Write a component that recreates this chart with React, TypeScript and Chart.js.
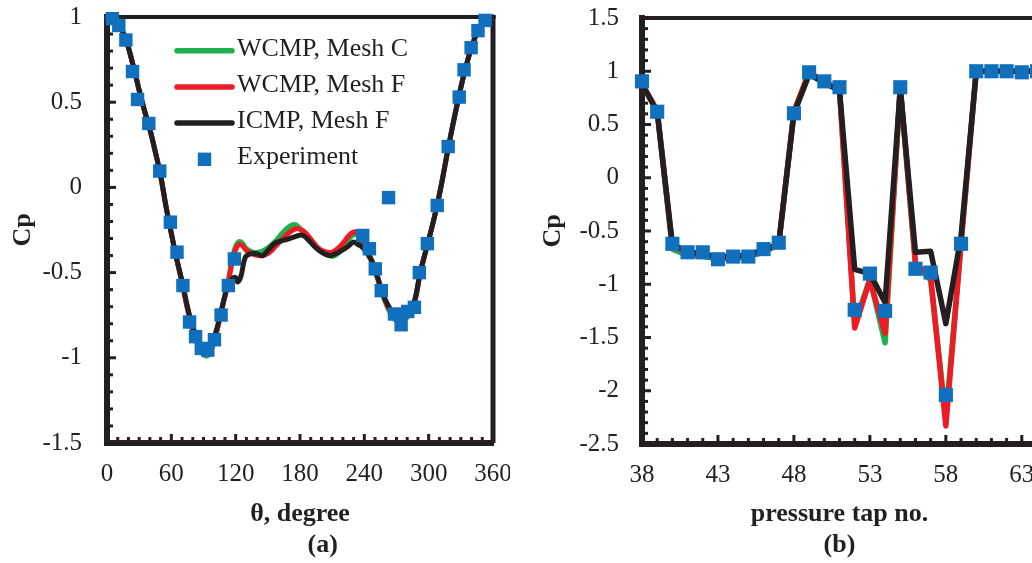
import React, { useEffect, useRef } from 'react';
import { Chart, registerables } from 'chart.js';

Chart.register(...registerables);

const FONT = "'Liberation Serif', 'Times New Roman', Times, serif";
const INK = '#231F20';
const GREEN = '#1DB04B';
const RED = '#ED1C24';
const BLACK = '#231F20';
const BLUE = '#1170BE';

// ---------------- chart (a) ----------------
const thetaTicksA = [0, 60, 120, 180, 240, 300, 360];
const cpTicksA = [-1.5, -1, -0.5, 0, 0.5, 1];

const thetaExpA = [5, 11, 17.6, 23.8, 28.5, 39, 49.2, 59.1, 65.3, 70.8, 77, 82.6, 88, 94, 100.2, 106.4, 113.2, 118.8,
  238.5, 244.7, 250.2, 255.8, 262.6, 268.1, 274.3, 280.5, 286.7, 291.3, 298.8, 308, 318.2, 328.5, 333, 339.6, 346, 352.6];
const cpExpA = [0.99, 0.95, 0.865, 0.68, 0.516, 0.375, 0.096, -0.204, -0.38, -0.576, -0.79, -0.876, -0.945, -0.955, -0.894, -0.749, -0.576, -0.42,
  -0.282, -0.36, -0.478, -0.606, -0.06, -0.743, -0.806, -0.728, -0.704, -0.5, -0.33, -0.106, 0.24, 0.53, 0.69, 0.82, 0.92, 0.98];

const thetaWcmp = [0, 5, 10, 15, 20, 25, 30, 35, 40, 45, 50, 55, 60, 65, 70, 75, 80, 85, 89, 93,
  97, 101, 105, 109, 113, 117, 120, 123, 126, 130, 136, 141, 146, 152, 158, 164, 170, 175, 179, 184,
  189, 194, 199, 205, 210, 215, 221, 226, 231, 235, 239, 243, 247, 252, 257, 262, 267, 272, 277, 282,
  287, 292, 297, 302, 307, 312, 317, 322, 327, 332, 337, 342, 347, 352, 356, 360];
const cpMeshC = [1.0, 0.99, 0.955, 0.91, 0.82, 0.7, 0.57, 0.45, 0.34, 0.21, 0.07, -0.11, -0.27, -0.42, -0.56, -0.71, -0.845, -0.935, -0.975, -0.99,
  -0.96, -0.88, -0.775, -0.66, -0.55, -0.41, -0.345, -0.318, -0.325, -0.36, -0.38, -0.38, -0.37, -0.345, -0.31, -0.265, -0.23, -0.218, -0.235, -0.27,
  -0.31, -0.345, -0.375, -0.395, -0.405, -0.39, -0.345, -0.3, -0.275, -0.29, -0.34, -0.39, -0.44, -0.53, -0.63, -0.71, -0.765, -0.79, -0.78, -0.745,
  -0.67, -0.51, -0.38, -0.26, -0.13, 0.02, 0.19, 0.35, 0.5, 0.64, 0.76, 0.86, 0.93, 0.975, 0.99, 1.0];
const cpMeshF = [1.0, 0.99, 0.955, 0.91, 0.82, 0.7, 0.57, 0.45, 0.34, 0.21, 0.07, -0.11, -0.27, -0.42, -0.56, -0.71, -0.84, -0.925, -0.965, -0.98,
  -0.95, -0.875, -0.775, -0.665, -0.56, -0.43, -0.365, -0.335, -0.34, -0.37, -0.39, -0.4, -0.4, -0.38, -0.34, -0.3, -0.265, -0.245, -0.243, -0.26,
  -0.295, -0.335, -0.365, -0.38, -0.38, -0.36, -0.32, -0.28, -0.26, -0.28, -0.33, -0.38, -0.43, -0.52, -0.62, -0.7, -0.755, -0.785, -0.775, -0.74,
  -0.67, -0.51, -0.38, -0.26, -0.13, 0.02, 0.19, 0.35, 0.5, 0.64, 0.76, 0.86, 0.93, 0.975, 0.99, 1.0];

const thetaIcmp = [0, 5, 10, 15, 20, 25, 30, 35, 40, 45, 50, 55, 60, 65, 70, 75, 80, 85, 89, 93,
  97, 101, 105, 109, 113, 117, 120, 122, 125, 129, 134, 140, 145, 150, 156, 162, 168, 175, 182, 188,
  194, 200, 207, 213, 219, 225, 230, 234, 238, 242, 247, 252, 257, 262, 267, 272, 277, 282, 287, 292,
  297, 302, 307, 312, 317, 322, 327, 332, 337, 342, 347, 352, 356, 360];
const cpIcmp = [1.0, 0.99, 0.955, 0.91, 0.82, 0.7, 0.57, 0.45, 0.34, 0.21, 0.07, -0.11, -0.27, -0.42, -0.55, -0.7, -0.82, -0.895, -0.93, -0.945,
  -0.925, -0.86, -0.765, -0.66, -0.575, -0.535, -0.53, -0.555, -0.52, -0.41, -0.39, -0.39, -0.4, -0.37, -0.33, -0.315, -0.305, -0.29, -0.28, -0.31,
  -0.35, -0.38, -0.4, -0.39, -0.37, -0.345, -0.32, -0.335, -0.35, -0.38, -0.43, -0.52, -0.62, -0.69, -0.74, -0.77, -0.765, -0.73, -0.66, -0.5,
  -0.38, -0.26, -0.13, 0.02, 0.19, 0.35, 0.5, 0.64, 0.76, 0.86, 0.93, 0.975, 0.99, 1.0];

// ---------------- chart (b) ----------------
const tapTicksB = [38, 43, 48, 53, 58, 63];
const cpTicksB = [-2.5, -2, -1.5, -1, -0.5, 0, 0.5, 1, 1.5];
const tapsB = [38, 39, 40, 41, 42, 43, 44, 45, 46, 47, 48, 49, 50, 51, 52, 53, 54, 55, 56, 57, 58, 59, 60, 61, 62, 63, 64];
const cpExpB = [0.905, 0.62, -0.62, -0.7, -0.7, -0.765, -0.74, -0.74, -0.67, -0.61, 0.605, 0.99, 0.905, 0.85, -1.24, -0.9, -1.25, 0.85, -0.855, -0.89, -2.04, -0.62, 1.0, 1.0, 1.0, 0.99, 1.0];
const cpIcmpB = [0.88, 0.62, -0.63, -0.69, -0.72, -0.74, -0.74, -0.72, -0.68, -0.62, 0.6, 0.97, 0.89, 0.82, -0.86, -0.9, -1.17, 0.84, -0.7, -0.69, -1.37, -0.55, 1.0, 1.0, 1.0, 1.0, 1.0];
const cpMeshFB = [0.88, 0.63, -0.64, -0.71, -0.73, -0.75, -0.75, -0.73, -0.69, -0.62, 0.62, 0.99, 0.9, 0.83, -1.41, -0.96, -1.46, 0.85, -0.8, -0.93, -2.33, -0.62, 1.0, 1.0, 1.0, 1.0, 1.0];
const cpMeshCB = [0.88, 0.63, -0.67, -0.73, -0.74, -0.76, -0.76, -0.74, -0.7, -0.63, 0.62, 0.99, 0.9, 0.83, -1.37, -0.95, -1.55, 0.85, -0.82, -0.96, -2.25, -0.62, 1.0, 1.0, 1.0, 1.0, 1.0];

const zip = (xs: number[], ys: number[]) => xs.map((x, i) => ({ x, y: ys[i] }));

// inner tick marks + frame
const frameTicks = {
  id: 'frameTicks',
  beforeDatasetsDraw(chart: any, _args: any, opts: any) {
    const { ctx, chartArea: a, scales } = chart;
    const x = scales.x, y = scales.y;
    ctx.save();
    ctx.strokeStyle = INK;
    // top + right frame
    ctx.lineWidth = opts.topWidth;
    ctx.beginPath(); ctx.moveTo(a.left, a.top); ctx.lineTo(a.right + opts.rightWidth / 2, a.top); ctx.stroke();
    ctx.lineWidth = opts.rightWidth;
    ctx.beginPath(); ctx.moveTo(a.right, a.top - opts.topWidth / 2); ctx.lineTo(a.right, a.bottom); ctx.stroke();
    ctx.lineWidth = 3;
    ctx.lineCap = 'butt';
    const nY = Math.round((y.max - y.min) / opts.yStep);
    for (let k = 1; k < nY; k++) {
      const v = y.min + k * opts.yStep;
      const r = (v - y.min) / opts.yMajor;
      const major = Math.abs(r - Math.round(r)) < 1e-6;
      const py = y.getPixelForValue(v);
      ctx.beginPath(); ctx.moveTo(a.left, py); ctx.lineTo(a.left + (major ? 9 : 6), py); ctx.stroke();
    }
    const nX = Math.round((x.max - x.min) / opts.xStep);
    for (let k = 1; k < nX; k++) {
      const v = x.min + k * opts.xStep;
      const r = (v - x.min) / opts.xMajor;
      const major = Math.abs(r - Math.round(r)) < 1e-6;
      const px = x.getPixelForValue(v);
      ctx.beginPath(); ctx.moveTo(px, a.bottom); ctx.lineTo(px, a.bottom - (major ? opts.xMajLen : opts.xMinLen)); ctx.stroke();
    }
    ctx.restore();
  },
};

const insideLegend = {
  id: 'insideLegend',
  afterDatasetsDraw(chart: any, _args: any, opts: any) {
    if (!opts || !opts.show) return;
    const { ctx, chartArea: a } = chart;
    ctx.save();
    ctx.font = `26px ${FONT}`;
    ctx.textBaseline = 'middle';
    ctx.textAlign = 'left';
    chart.data.datasets.forEach((d: any, i: number) => {
      const yy = a.top + 33.7 + i * 36.2;
      const x0 = a.left + 70, x1 = a.left + 125;
      if (d.showLine === false) {
        const s = 13.4;
        ctx.fillStyle = d.backgroundColor;
        ctx.fillRect((x0 + x1) / 2 - s / 2, yy - s / 2, s, s);
      } else {
        ctx.strokeStyle = d.borderColor;
        ctx.lineWidth = 5.5;
        ctx.lineCap = 'round';
        ctx.beginPath(); ctx.moveTo(x0, yy); ctx.lineTo(x1, yy); ctx.stroke();
      }
      ctx.fillStyle = INK;
      ctx.fillText(d.label, a.left + 130, yy - 2);
    });
    ctx.restore();
  },
};

function lineDs(label: string, data: any[], color: string, order: number, width: number, tension: number) {
  return {
    label, data, borderColor: color, backgroundColor: color, borderWidth: width, pointRadius: 0,
    tension, order, clip: false as any, borderCapStyle: 'round', borderJoinStyle: 'round', fill: false,
  };
}
function expDs(data: any[], r: number) {
  return {
    label: 'Experiment', data, showLine: false, pointStyle: 'rect', pointRadius: r, pointHoverRadius: r,
    backgroundColor: BLUE, borderColor: BLUE, borderWidth: 0, order: 0, clip: false as any,
  };
}

function makeScales(o: any) {
  return {
    x: {
      type: 'linear', min: o.xMin, max: o.xMax,
      afterBuildTicks: (s: any) => { s.ticks = o.xTicks.map((v: number) => ({ value: v })); },
      afterFit: (s: any) => { s.height = o.xHeight; s.paddingLeft = 0; s.paddingRight = 0; },
      grid: { display: false, drawTicks: false },
      border: { display: true, color: INK, width: 6 },
      ticks: { autoSkip: false, maxRotation: 0, color: INK, font: { family: FONT, size: 25 }, padding: 16, callback: (v: any) => String(v) },
      title: { display: true, text: o.xTitle, color: INK, font: { family: FONT, size: 26, weight: 'bold', lineHeight: 1.2 }, padding: { top: 0, bottom: 2 } },
    },
    y: {
      type: 'linear', min: o.yMin, max: o.yMax,
      afterBuildTicks: (s: any) => { s.ticks = o.yTicks.map((v: number) => ({ value: v })); },
      afterFit: (s: any) => { s.width = o.yWidth; s.paddingTop = 0; s.paddingBottom = 0; },
      grid: { display: false, drawTicks: false },
      border: { display: true, color: INK, width: 6 },
      ticks: { autoSkip: false, color: INK, font: { family: FONT, size: 25 }, padding: o.yPad, callback: (v: any) => String(v) },
      title: { display: true, text: 'Cp', color: INK, font: { family: FONT, size: 26, weight: 'bold', lineHeight: 1.2 }, padding: { top: o.yTitlePad, bottom: 0 } },
    },
  };
}

function configA(): any {
  return {
    type: 'line',
    data: {
      datasets: [
        lineDs('WCMP, Mesh C', zip(thetaWcmp, cpMeshC), GREEN, 3, 5, 0.4),
        lineDs('WCMP, Mesh F', zip(thetaWcmp, cpMeshF), RED, 2, 5, 0.4),
        lineDs('ICMP, Mesh F', zip(thetaIcmp, cpIcmp), BLACK, 1, 5, 0.4),
        expDs(zip(thetaExpA, cpExpA), 9.5),
      ],
    },
    options: {
      animation: false, responsive: false, events: [],
      layout: { padding: { left: 0, top: 17, right: 17, bottom: 0 }, autoPadding: false },
      plugins: {
        legend: { display: false }, tooltip: { enabled: false },
        frameTicks: { topWidth: 4, rightWidth: 5, xStep: 10, xMajor: 60, yStep: 0.1, yMajor: 0.5, xMinLen: 6, xMajLen: 9 },
        insideLegend: { show: true },
      },
      scales: makeScales({
        xMin: 0, xMax: 360, xTicks: thetaTicksA, xHeight: 120, xTitle: ['θ, degree', '       (a)'],
        yMin: -1.5, yMax: 1, yTicks: cpTicksA, yWidth: 107, yPad: 25, yTitlePad: 8,
      }),
    },
    plugins: [frameTicks, insideLegend],
  };
}

function configB(): any {
  return {
    type: 'line',
    data: {
      datasets: [
        lineDs('WCMP, Mesh C', zip(tapsB, cpMeshCB), GREEN, 3, 5.5, 0),
        lineDs('WCMP, Mesh F', zip(tapsB, cpMeshFB), RED, 2, 5.5, 0),
        lineDs('ICMP, Mesh F', zip(tapsB, cpIcmpB), BLACK, 1, 5.5, 0),
        expDs(zip(tapsB, cpExpB), 10),
      ],
    },
    options: {
      animation: false, responsive: false, events: [],
      layout: { padding: { left: 0, top: 18, right: 43, bottom: 0 }, autoPadding: false },
      plugins: {
        legend: { display: false }, tooltip: { enabled: false },
        frameTicks: { topWidth: 4, rightWidth: 5, xStep: 1, xMajor: 5, yStep: 0.1, yMajor: 0.5, xMinLen: 6, xMajLen: 9 },
        insideLegend: { show: false },
      },
      scales: makeScales({
        xMin: 38, xMax: 64, xTicks: tapTicksB, xHeight: 119, xTitle: ['pressure tap no.', '(b)'],
        yMin: -2.5, yMax: 1.5, yTicks: cpTicksB, yWidth: 132, yPad: 23, yTitlePad: 28,
      }),
    },
    plugins: [frameTicks, insideLegend],
  };
}

export default function App() {
  const refA = useRef<HTMLCanvasElement>(null);
  const refB = useRef<HTMLCanvasElement>(null);
  useEffect(() => {
    const a = new Chart(refA.current as HTMLCanvasElement, configA());
    const b = new Chart(refB.current as HTMLCanvasElement, configB());
    return () => { a.destroy(); b.destroy(); };
  }, []);
  return (
    <div style={{ position: 'fixed', left: 0, top: 0, width: 1032, height: 563, overflow: 'hidden', background: '#fff' }}>
      <canvas ref={refA} width={510} height={563} style={{ position: 'absolute', left: 0, top: 0, width: 510, height: 563 }} />
      <canvas ref={refB} width={570} height={563} style={{ position: 'absolute', left: 510, top: 0, width: 570, height: 563 }} />
    </div>
  );
}
